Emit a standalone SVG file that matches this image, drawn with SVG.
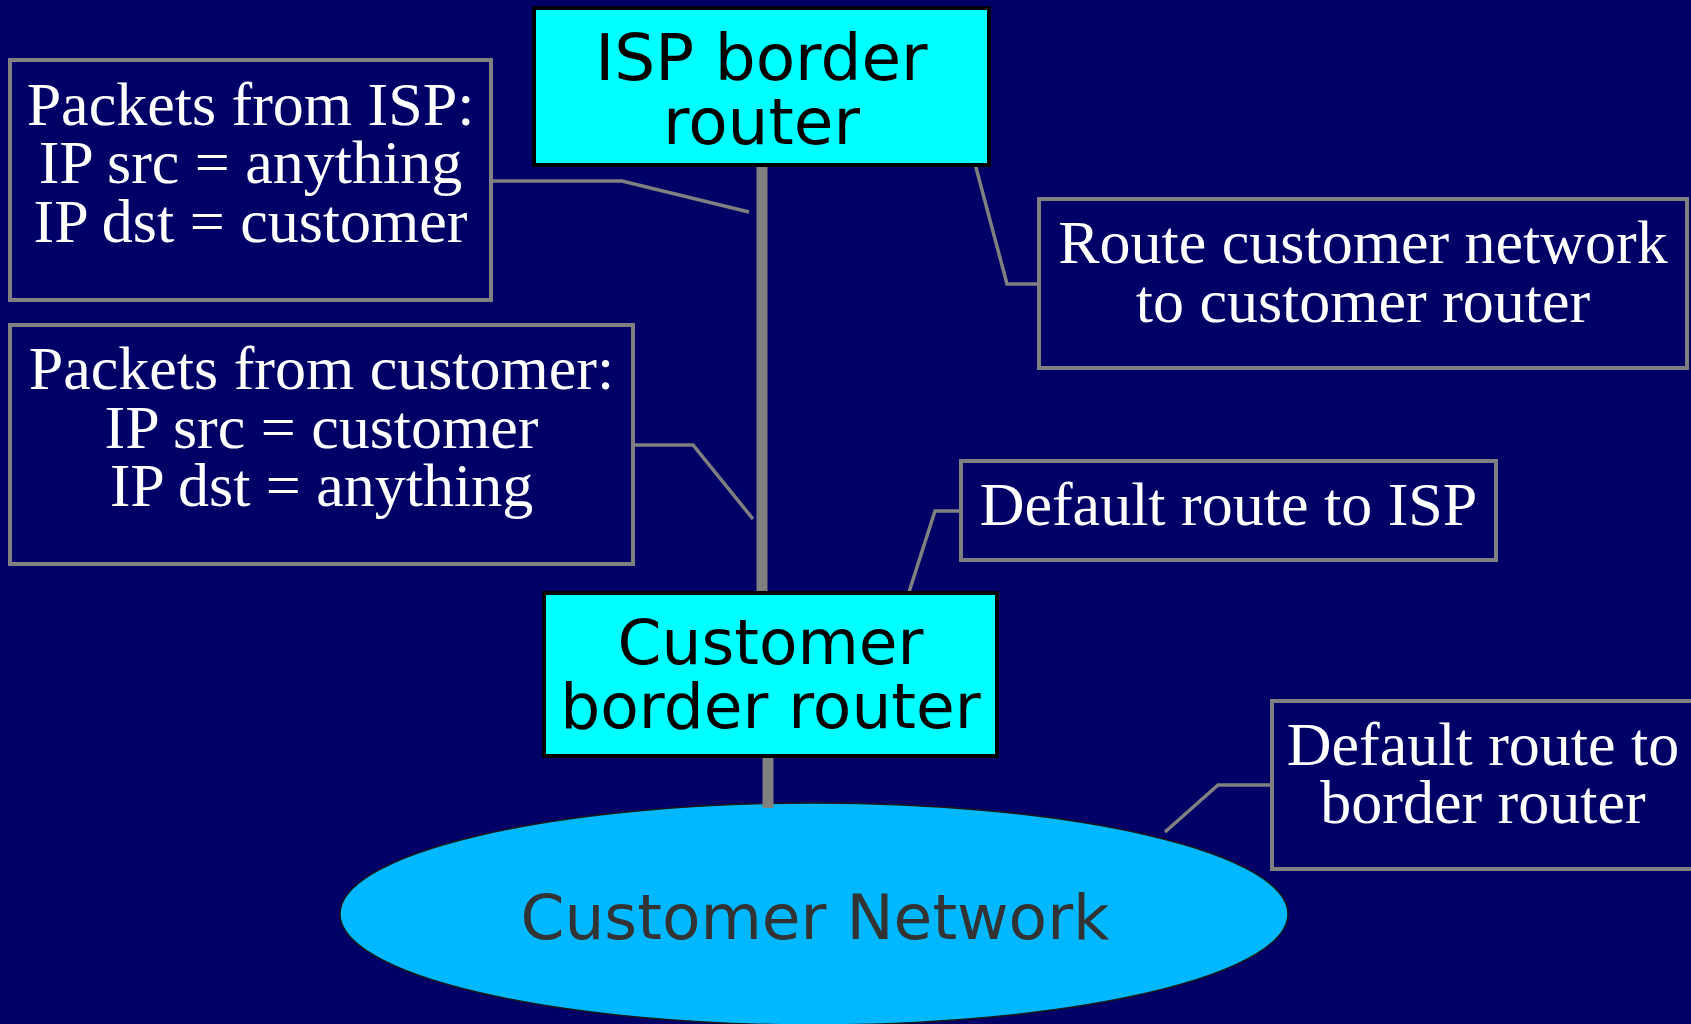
<svg xmlns="http://www.w3.org/2000/svg" width="1691" height="1024" viewBox="0 0 1691 1024">
<style>
.note{fill:none;stroke:#808080;stroke-width:4}
.conn{fill:none;stroke:#808080;stroke-width:3.5}
.link{stroke:#808080;stroke-width:11}
.router{fill:#00FFFF;stroke:#000000;stroke-width:4}
.nt{font-family:"Liberation Serif","Times New Roman",serif;font-size:62px;fill:#FFFFFF;text-anchor:middle}
.rt{font-family:"DejaVu Sans",Verdana,sans-serif;font-size:63px;fill:#000000;text-anchor:middle}
</style>
<rect width="1691" height="1024" fill="#000066"/>
<g id="customer-network">
<ellipse cx="814" cy="914" rx="474" ry="111" fill="#00B8FF" stroke="#1a1a1a" stroke-width="1.5"/>
<text class="rt" x="815" y="939" style="fill:#333333">Customer Network</text>
</g>
<g id="connectors">
<line class="link" x1="762" y1="159" x2="762" y2="598"/>
<line class="link" x1="768" y1="753" x2="768" y2="808"/>
<polyline class="conn" points="491,181 622,181 749,212"/>
<polyline class="conn" points="633,445 693,445 753,519"/>
<polyline class="conn" points="974,160 1007,284 1039,284"/>
<polyline class="conn" points="961,511 935,511 909,592"/>
<polyline class="conn" points="1272,785 1218,785 1165,832"/>
</g>
<g id="isp-router">
<rect class="router" x="534" y="8" width="455" height="157"/>
<text class="rt" x="761.5" y="80" style="font-size:64.5px">ISP border</text>
<text class="rt" x="761.5" y="144" style="font-size:64.5px">router</text>
</g>
<g id="customer-router">
<rect class="router" x="544" y="593" width="453" height="163"/>
<text class="rt" x="770.5" y="664">Customer</text>
<text class="rt" x="770.5" y="728">border router</text>
</g>
<g id="note-from-isp">
<rect class="note" x="10" y="60" width="481" height="240"/>
<text class="nt" x="250.5" y="125">Packets from ISP:</text>
<text class="nt" x="250.5" y="183">IP src = anything</text>
<text class="nt" x="250.5" y="242">IP dst = customer</text>
</g>
<g id="note-from-customer">
<rect class="note" x="10" y="325" width="623" height="239"/>
<text class="nt" x="321.5" y="389">Packets from customer:</text>
<text class="nt" x="321.5" y="448">IP src = customer</text>
<text class="nt" x="321.5" y="506">IP dst = anything</text>
</g>
<g id="note-route-customer">
<rect class="note" x="1039" y="199" width="648" height="169"/>
<text class="nt" x="1363" y="263">Route customer network</text>
<text class="nt" x="1363" y="322">to customer router</text>
</g>
<g id="note-default-isp">
<rect class="note" x="961" y="461" width="535" height="99"/>
<text class="nt" x="1228.5" y="525">Default route to ISP</text>
</g>
<g id="note-default-border">
<rect class="note" x="1272" y="701" width="430" height="168"/>
<text class="nt" x="1483" y="765">Default route to</text>
<text class="nt" x="1483" y="823">border router</text>
</g>
</svg>
